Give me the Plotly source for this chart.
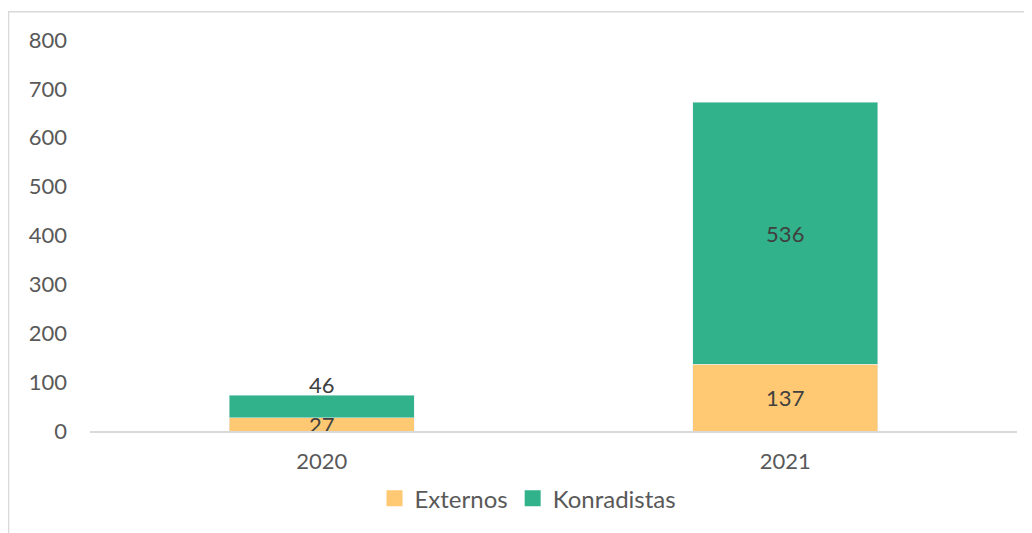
import plotly.graph_objects as go

years = ["2020", "2021"]
externos = [27, 137]
konradistas = [46, 536]
series_names = ["Externos", "Konradistas"]
colors = ["#FFC872", "#31B28A"]

FONT = "Lato, Carlito, Calibri, sans-serif"
OFF = 8  # page body margin
W, H = 1024, 525
L, R, T, B = 90 - OFF, 15, 40 - OFF, 100
PW, PH = W - L - R, H - T - B
LBL = dict(family=FONT, size=22, color="#404040")

fig = go.Figure()
fig.add_trace(go.Bar(
    name=series_names[0], x=years, y=externos, marker_color=colors[0],
    text=[str(v) for v in externos], textposition="inside", textangle=0,
    insidetextanchor="middle", constraintext="none", textfont=LBL,
    showlegend=False,
))
fig.add_trace(go.Bar(
    name=series_names[1], x=years, y=konradistas, marker_color=colors[1],
    text=["", str(konradistas[1])], textposition="inside",
    textangle=0, insidetextanchor="middle", constraintext="none", textfont=LBL,
    showlegend=False,
))
# small segment label placed just above the stack (as in the original)
fig.add_annotation(x=0, y=externos[0] + konradistas[0], xref="x", yref="y",
                   text=str(konradistas[0]), showarrow=False,
                   yanchor="bottom", yshift=-5, font=LBL)

# legend entries with larger square swatches (on a hidden helper axis)
for n, c in zip(series_names, colors):
    fig.add_trace(go.Scatter(x=[None], y=[None], mode="markers", name=n,
                             xaxis="x2", yaxis="y2",
                             marker=dict(symbol="square", size=16, color=c)))

fig.update_layout(
    barmode="stack", bargap=0.6,
    width=W, height=H,
    margin=dict(l=L, r=R, t=T, b=B),
    plot_bgcolor="white", paper_bgcolor="white",
    font=dict(family=FONT, size=22, color="#595959"),
    legend=dict(orientation="h", x=(528 - 90) / PW, xanchor="center",
                y=(433 - 501) / PH, yanchor="middle",
                font=dict(family=FONT, size=24, color="#595959"),
                traceorder="normal", itemsizing="trace"),
    xaxis=dict(type="category", showline=True, linecolor="#D9D9D9", linewidth=2,
               showgrid=False, ticks="", ticklabelstandoff=10),
    yaxis=dict(range=[0, 800], dtick=100, showgrid=False, zeroline=False,
               showline=False, ticks="", ticklabelstandoff=22),
    xaxis2=dict(overlaying="x", visible=False),
    yaxis2=dict(overlaying="y", visible=False),
    shapes=[dict(type="rect", xref="paper", yref="paper",
                 x0=(0.5 - L) / PW, x1=(W + 10 - L) / PW,
                 y0=-(B + 10) / PH,
                 y1=1 + (T - 3.5) / PH,
                 line=dict(color="#D9D9D9", width=1.5))],
)
fig.write_html("out.html")
